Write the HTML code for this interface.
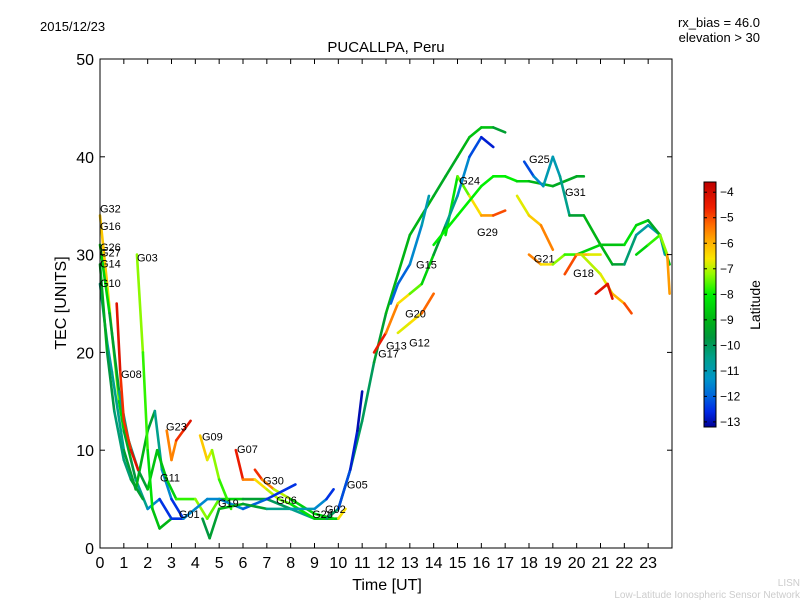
<!DOCTYPE html>
<html><head><meta charset="utf-8"><style>
body{margin:0;background:#fff;font-family:"Liberation Sans","DejaVu Sans",sans-serif}
svg{display:block}
</style></head><body>
<svg id="c" width="800" height="600" viewBox="0 0 800 600" xmlns="http://www.w3.org/2000/svg">
<defs>
<linearGradient id="jet" x1="0" y1="1" x2="0" y2="0"></linearGradient>
</defs>
<text x="40" y="31" font-size="13">2015/12/23</text>
<text x="760" y="27" font-size="13" text-anchor="end">rx_bias = 46.0</text>
<text x="760" y="42" font-size="13" text-anchor="end">elevation &gt; 30</text>
<text x="386" y="52" font-size="15" text-anchor="middle">PUCALLPA, Peru</text>
<text x="387" y="590" font-size="16" text-anchor="middle">Time [UT]</text>
<text transform="translate(66,303) rotate(-90)" font-size="16" text-anchor="middle">TEC [UNITS]</text>
<text x="800" y="586" font-size="10" fill="#ccc" text-anchor="end">LISN</text>
<text x="800" y="598" font-size="10" fill="#ccc" text-anchor="end">Low-Latitude Ionospheric Sensor Network</text>
<g id="plot"></g>
<g id="axes"></g>
<rect x="704" y="182" width="12" height="245" fill="url(#jet)" stroke="#000" stroke-width="1"/>
<g id="cbticks"></g>
<text transform="translate(760,305) rotate(-90)" font-size="14" text-anchor="middle">Latitude</text>
</svg>
<script>
const xTicks=[0,1,2,3,4,5,6,7,8,9,10,11,12,13,14,15,16,17,18,19,20,21,22,23];
const yTicks=[0,10,20,30,40,50];
const cbTicks=[-4,-5,-6,-7,-8,-9,-10,-11,-12,-13];
// tracks: [time, tec, latitude]
const trackG32=[[0,34,-6],[0.3,27,-6.5],[0.5,22,-7],[0.8,15,-8],[1,12,-9],[1.3,9,-9.5],[1.5,7,-10],[2,4,-11],[2.5,5,-12],[3,3,-13]];
const trackG10=[[0,27,-10],[0.3,21,-10.5],[0.5,18,-11],[1,10,-10],[1.5,6,-9],[2,12,-9],[2.3,14,-10],[2.6,8,-11],[3,5,-12],[3.5,3,-13]];
const trackG26=[[0,31,-8],[0.4,24,-9],[0.8,16,-10],[1.2,11,-11],[1.6,8,-10],[2,6,-9],[2.4,10,-8.5],[2.8,7,-9]];
const trackG14=[[0,29,-9],[0.3,20,-9.5],[0.6,14,-10],[1,9,-10.5],[1.3,7,-10],[1.8,5,-9]];
const trackG03=[[1.55,30,-7],[1.8,20,-7.5],[2,10,-8],[2.2,4,-8.5],[2.5,2,-9],[3,3,-9]];
const trackG08=[[0.7,25,-4],[0.85,18,-4.5],[1,13,-5],[1.3,10,-4.5],[1.6,8,-4]];
const trackG23=[[2.8,12,-5],[3,9,-6],[3.2,11,-5],[3.5,12,-4.5],[3.8,13,-4]];
const trackG11=[[2.8,7,-9],[3.2,5,-8],[4,5,-7.5],[4.5,3,-7],[5,5,-8],[6,5,-9],[7,5,-10],[8,4,-10],[9,3,-11]];
const trackG09=[[4.2,11.5,-6],[4.5,9,-6.5],[4.7,10,-7],[5,7,-7.5],[5.5,4,-8]];
const trackG07=[[5.7,10,-4],[6,7,-5],[6.5,7,-6],[7,6,-7],[7.5,5,-7],[8,4.5,-8],[9,3,-8.5],[10,3,-9],[10.3,4,-4]];
const trackG30=[[6.5,8,-4.5],[6.8,7,-5],[7.3,6,-6],[8,5,-8],[9,3.5,-9],[9.8,3,-8]];
const trackG01=[[3,3,-13],[3.5,3,-12],[4,4,-11],[4.5,5,-12],[5,5,-11],[6,4,-12],[7,5,-12],[8.2,6.5,-13]];
const trackG19=[[4.3,3,-9.5],[4.6,1,-10],[5,4,-9],[6,4.5,-9],[7,4,-10],[8,4,-11],[9,4,-11],[9.5,5,-12],[9.8,6,-13]];
const trackMain=[[9.5,3,-10],[10,4,-10],[10.5,8,-10],[11,13,-10],[11.5,19,-10],[12,24,-9],[12.5,28,-9],[13,32,-9],[13.5,34,-9],[14,36,-9],[14.5,38,-9.5],[15,40,-9],[15.5,42,-9],[16,43,-8.5],[16.5,43,-9],[17,42.5,-10]];
const trackG24=[[14.5,32,-8.5],[15,38,-8],[15.5,36,-7],[16,34,-6],[16.5,34,-5.5],[17,34.5,-4.5]];
const trackG05=[[10,4,-12],[10.5,8,-12.5],[10.8,12,-13],[11,16,-13]];
const trackG13=[[11.5,20,-4],[12,22,-5],[12.5,25,-6],[13,26,-7],[13.5,27,-8],[14,30,-9],[14.5,33,-10],[15,36,-11],[15.5,40,-12],[16,42,-12.5],[16.5,41,-13]];
const trackG12=[[12.5,22,-6.5],[13,23,-7],[13.5,24,-6],[14,26,-4.5]];
const trackG15=[[12.2,25,-12],[12.5,27,-12],[13,29,-12],[13.5,33,-11],[13.8,36,-11]];
const trackGreen=[[14,31,-8],[15,34,-8],[16,37,-8],[16.5,38,-8],[17,38,-8],[17.5,37.5,-8],[18,37.5,-9],[19,37,-9],[20,38,-9.5],[20.3,38,-9]];
const trackG25=[[17.8,39.5,-12.5],[18.2,38,-12],[18.6,37,-11],[19,40,-11],[19.3,38,-11],[19.7,34,-10],[20.3,34,-9],[21,31,-9],[21.5,29,-9],[22,29,-10],[22.5,32,-10.5],[23,33,-11],[23.5,32,-11],[23.7,30,-11]];
const trackG21=[[18,30,-5],[18.5,29,-6],[19,29,-7],[19.5,30,-7.5],[20,30,-8],[21,31,-9],[22,31,-8.5],[22.5,33,-8],[23,33.5,-9],[23.5,32,-9.5],[23.9,29,-8]];
const trackG18=[[19.5,28,-4.5],[20,30,-5.5],[20.5,30,-6.5],[21,30,-7]];
const trackYellow=[[20.2,30,-7],[21,28,-7],[21.5,26,-6.5],[22,25,-5.5],[22.3,24,-4.5]];
const trackG29=[[17.5,36,-7],[18,34,-6.5],[18.5,33,-6],[19,30.5,-5]];
const trackRed=[[20.8,26,-4],[21.3,27,-4.5],[21.5,25.5,-4]];
const trackEnd=[[22.5,30,-9],[23,31,-8],[23.5,32,-7.5],[23.8,30,-7],[23.9,26,-4.5]];
const tracks=[trackG32,trackG10,trackG26,trackG14,trackG03,trackG08,trackG23,trackG11,trackG09,trackG07,trackG30,trackG01,trackG19,trackMain,trackG24,trackG05,trackG13,trackG12,trackG15,trackGreen,trackG25,trackG21,trackG18,trackYellow,trackG29,trackRed,trackEnd];
const labelNames=["G32","G16","G26","G27","G14","G10","G03","G08","G23","G09","G11","G07","G01","G19","G30","G06","G28","G02","G05","G17","G13","G12","G20","G15","G24","G29","G25","G31","G21","G18"];
const labelTimes=[0,0,0,0,0,0,1.55,0.88,2.77,4.28,2.52,5.75,3.31,4.95,6.84,7.39,8.9,9.44,10.36,11.67,12.0,12.97,12.8,13.26,15.07,15.82,18.0,19.51,18.2,19.85];
const labelTecs=[34.7,32.9,30.8,30.2,29.1,27.1,29.7,17.8,12.4,11.4,7.2,10.1,3.5,4.6,6.9,4.9,3.5,4.0,6.5,19.9,20.7,21.0,24.0,29.0,37.6,32.3,39.8,36.4,29.6,28.1];

const X0=100,X1=672,Y0=548,Y1=59;
const LMIN=-13.2,LMAX=-3.6;
const xs=t=>X0+t/24*(X1-X0);
const ys=v=>Y0-v/50*(Y0-Y1);
const NS="http://www.w3.org/2000/svg";
// colormap stops: [latitude, r,g,b]
const cmap=[[-13.2,0,0,150],[-12.6,0,40,230],[-12,0,100,220],[-11.3,0,150,200],[-10.5,0,160,140],[-9.7,0,150,60],[-9,0,180,20],[-8,0,240,0],[-7.2,150,250,0],[-6.6,250,230,0],[-6,255,180,0],[-5.3,255,110,0],[-4.6,240,30,0],[-3.6,190,0,0]];
function latCol(l){
 if(l<=cmap[0][0])return `rgb(${cmap[0].slice(1)})`;
 for(let i=0;i<cmap.length-1;i++){const a=cmap[i],b=cmap[i+1];
  if(l<=b[0]){const f=(l-a[0])/(b[0]-a[0]);return `rgb(${[1,2,3].map(k=>Math.round(a[k]+(b[k]-a[k])*f))})`;}}
 return `rgb(${cmap[cmap.length-1].slice(1)})`;
}
const grad=document.getElementById('jet');
cmap.forEach(s=>{const st=document.createElementNS(NS,'stop');st.setAttribute('offset',(s[0]-LMIN)/(LMAX-LMIN));st.setAttribute('stop-color',`rgb(${s.slice(1)})`);grad.appendChild(st);});
const plot=document.getElementById('plot');
tracks.forEach((tr,ti)=>{
 for(let i=0;i<tr.length-1;i++){
  const a=tr[i],b=tr[i+1];
  const ln=document.createElementNS(NS,'line');
  
  
  ln.setAttribute('x1',xs(a[0]));ln.setAttribute('y1',ys(a[1]));
  ln.setAttribute('x2',xs(b[0]));ln.setAttribute('y2',ys(b[1]));
  ln.setAttribute('stroke',latCol((a[2]+b[2])/2));ln.setAttribute('stroke-width',2.6);ln.setAttribute('stroke-linecap','round');
  plot.appendChild(ln);
 }
});
labelNames.forEach((n,i)=>{
 const t=document.createElementNS(NS,'text');
 
 
 t.setAttribute('x',xs(labelTimes[i]));t.setAttribute('y',ys(labelTecs[i])+4);
 t.setAttribute('font-size','11');t.textContent=n;plot.appendChild(t);
});
const ax=document.getElementById('axes');
let h=`<rect x="${X0}" y="${Y1}" width="${X1-X0}" height="${Y0-Y1}" fill="none" stroke="#000"/>`;
xTicks.forEach(t=>{const x=xs(t);h+=`<line x1="${x}" y1="${Y0}" x2="${x}" y2="${Y0-5}" stroke="#000"/><line x1="${x}" y1="${Y1}" x2="${x}" y2="${Y1+5}" stroke="#000"/><text x="${x}" y="${Y0+20}" font-size="16" text-anchor="middle">${t}</text>`;});
yTicks.forEach(v=>{const y=ys(v);h+=`<line x1="${X0}" y1="${y}" x2="${X0+5}" y2="${y}" stroke="#000"/><line x1="${X1}" y1="${y}" x2="${X1-5}" y2="${y}" stroke="#000"/><text x="${X0-6}" y="${y+6}" font-size="16" text-anchor="end">${v}</text>`;});
ax.innerHTML=h;
const cb=document.getElementById('cbticks');let c='';
cbTicks.forEach(v=>{const y=182+(LMAX-v)/(LMAX-LMIN)*245;c+=`<line x1="704" y1="${y}" x2="707" y2="${y}" stroke="#000"/><line x1="713" y1="${y}" x2="716" y2="${y}" stroke="#000"/><text x="720" y="${y+4}" font-size="12">${String(v).replace('-','\u2212')}</text>`;});
cb.innerHTML=c;
</script>
</body></html>
